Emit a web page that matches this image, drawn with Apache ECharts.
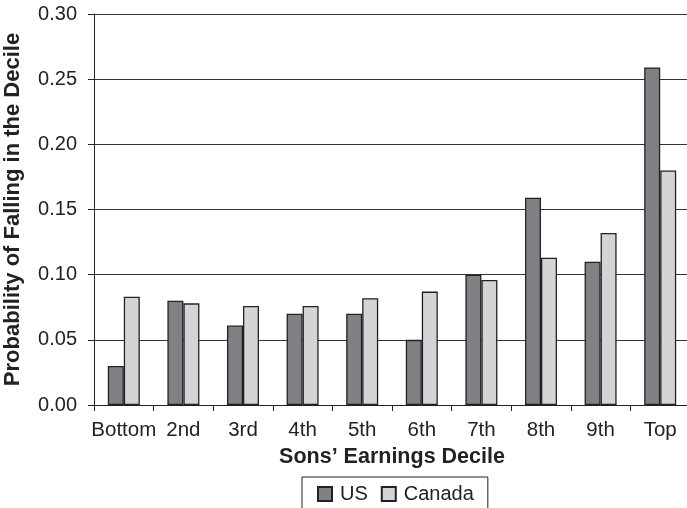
<!DOCTYPE html>
<html><head><meta charset="utf-8">
<script src="https://cdn.jsdelivr.net/npm/echarts@6/dist/echarts.min.js"></script>
<style>html,body{margin:0;padding:0;background:#fff}#c{width:687px;height:508px}</style>
</head><body><div id="c"></div>
<script>
const categories = ['Bottom','2nd','3rd','4th','5th','6th','7th','8th','9th','Top'];
const usValues = [0.030,0.080,0.061,0.070,0.070,0.050,0.100,0.159,0.110,0.259];
const canadaValues = [0.083,0.078,0.076,0.076,0.082,0.087,0.096,0.113,0.132,0.180];
const seriesNames = ['US','Canada'];

const F = '"Liberation Sans", Arial, sans-serif';
const chart = echarts.init(document.getElementById('c'), null, {renderer:'canvas'});
chart.setOption({
  animation:false,
  grid:{left:94, right:-3, top:14, bottom:103, containLabel:false, outerBoundsMode:'none'},
  legend:{
    data:seriesNames, left:302, top:477,
    orient:'horizontal', icon:'rect', itemWidth:14, itemHeight:14, itemGap:13,
    borderColor:'#222', borderWidth:1, padding:[7,14,20,15],
    textStyle:{fontFamily:F, fontSize:20, color:'#222', padding:[0,0,0,3]}
  },
  xAxis:{
    type:'category', data:categories,
    name:'Sons\u2019 Earnings Decile', nameLocation:'middle', nameGap:39,
    nameTextStyle:{fontFamily:F, fontSize:21.5, fontWeight:'bold', color:'#222'},
    axisLine:{lineStyle:{color:'#222', width:1}},
    axisTick:{show:true, alignWithLabel:false, length:6, lineStyle:{color:'#222'}},
    axisLabel:{interval:0, fontFamily:F, fontSize:20.5, color:'#222', margin:15}
  },
  yAxis:{
    type:'value', min:0, max:0.30, interval:0.05,
    name:'Probability of Falling in the Decile', nameLocation:'middle', nameGap:70,
    nameTextStyle:{fontFamily:F, fontSize:22, fontWeight:'bold', color:'#222'},
    axisLine:{show:true, lineStyle:{color:'#222', width:1}},
    axisTick:{show:true, length:6, lineStyle:{color:'#222'}},
    axisLabel:{fontFamily:F, fontSize:20, color:'#222', margin:17, formatter:v=>v.toFixed(2)},
    splitLine:{show:true, lineStyle:{color:'#333', width:1.2}}
  },
  series:[
    {name:seriesNames[0], type:'bar', data:usValues, barWidth:16, barGap:'0%',
     itemStyle:{color:'#808184', borderColor:'#222', borderWidth:1.3}},
    {name:seriesNames[1], type:'bar', data:canadaValues, barWidth:16, barGap:'0%',
     itemStyle:{color:'#d3d4d6', borderColor:'#222', borderWidth:1.3}}
  ]
});
</script></body></html>
